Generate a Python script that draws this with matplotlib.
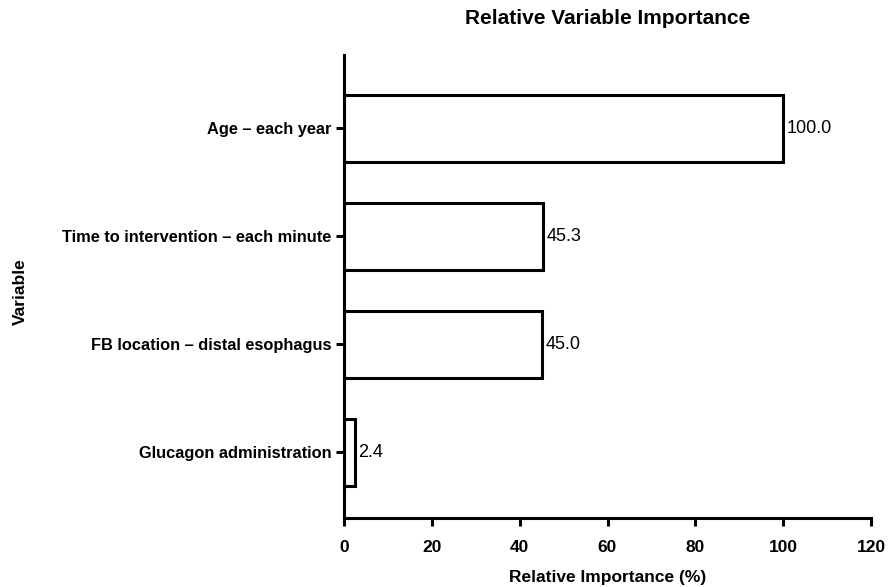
import matplotlib
matplotlib.use("Agg")
import matplotlib.pyplot as plt

categories = ["Age \u2013 each year", "Time to intervention \u2013 each minute",
              "FB location \u2013 distal esophagus", "Glucagon administration"]
values = [100.0, 45.3, 45.0, 2.4]
xticks = [0, 20, 40, 60, 80, 100, 120]

plt.rcParams['font.family'] = ['Liberation Sans', 'DejaVu Sans']

fig = plt.figure(figsize=(8.91, 5.87), dpi=100)
ax = fig.add_axes([344/891, 1-518/587, (871-344)/891, (518-55)/587])

ypos = list(range(len(categories)))[::-1]
ax.barh(ypos, values, height=0.62, color='white', edgecolor='black', linewidth=2.2)
for y, v in zip(ypos, values):
    ax.text(v + 0.8, y, f"{v:.1f}", va='center', ha='left', fontsize=13)

ax.set_xlim(0, 120)
ax.set_ylim(-0.61, 3.68)
ax.set_xticks(xticks)
ax.set_xticklabels([str(t) for t in xticks], fontweight='bold', fontsize=12.5)
ax.set_yticks(ypos)
ax.set_yticklabels(categories, fontweight='bold', fontsize=11.75)
for s in ['top', 'right']:
    ax.spines[s].set_visible(False)
for s in ['left', 'bottom']:
    ax.spines[s].set_linewidth(2.2)
ax.tick_params(width=2.2, length=6, direction='out')
ax.tick_params(axis='y', pad=3)
ax.tick_params(axis='x', pad=9.5)
ax.set_xlabel("Relative Importance (%)", fontweight='bold', fontsize=12.5, labelpad=11)
fig.text(20/891, 1-292/587, "Variable", rotation=90, fontweight='bold', fontsize=12.5,
         ha='center', va='center')
fig.text(608/891, 1-19/587, "Relative Variable Importance", fontweight='bold', fontsize=15,
         ha='center', va='center')

fig.savefig("out.png", dpi=100)
